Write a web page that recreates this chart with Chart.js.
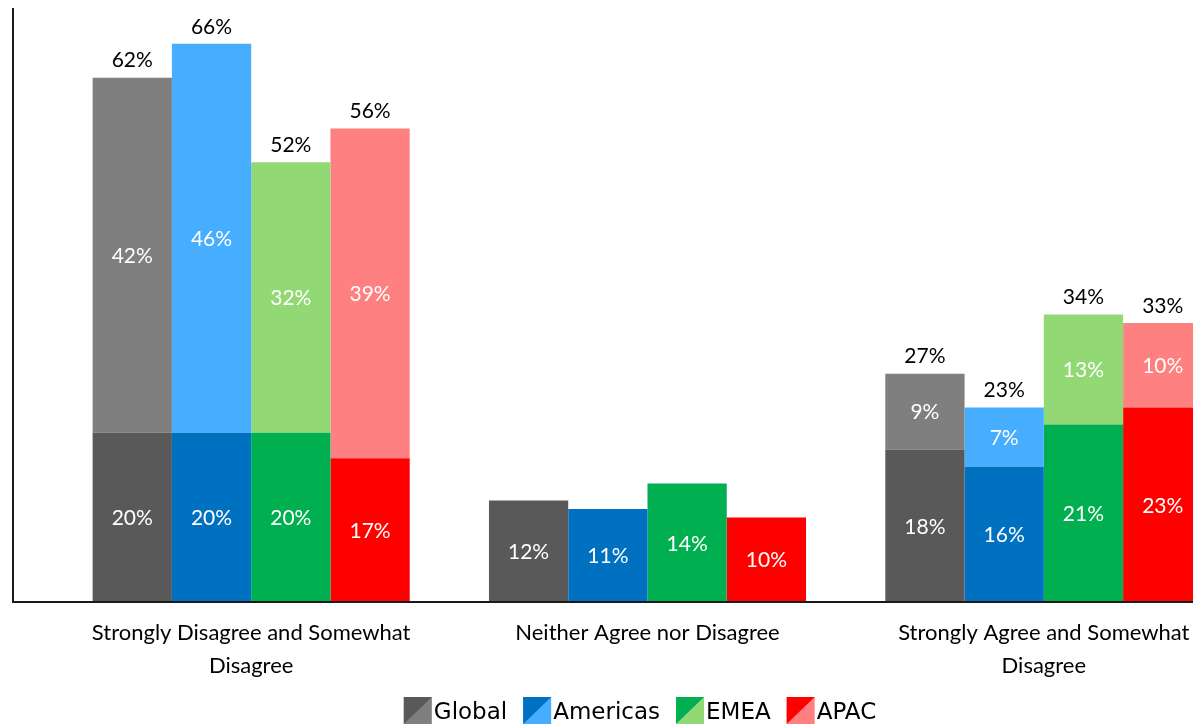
<!DOCTYPE html>
<html>
<head>
<meta charset="utf-8">
<script src="https://cdn.jsdelivr.net/npm/chart.js@4.4.1/dist/chart.umd.min.js"></script>
<style>
  html, body { margin: 0; padding: 0; background: #fff; overflow: hidden; }
  #wrap { width: 1290px; height: 726px; }
</style>
</head>
<body>
<div id="wrap"><canvas id="chart"></canvas></div>
<script>
var categories = [
  ["Strongly Disagree and Somewhat", "Disagree"],
  "Neither Agree nor Disagree",
  ["Strongly Agree and Somewhat", "Disagree"]
];
var regions = ["Global", "Americas", "EMEA", "APAC"];

// lower part of each bar ("strongly") and upper part ("somewhat")
var globalStrong = [20, 12, 18];
var globalSomewhat = [42, null, 9];
var americasStrong = [20, 11, 16];
var americasSomewhat = [46, null, 7];
var emeaStrong = [20, 14, 21];
var emeaSomewhat = [32, null, 13];
var apacStrong = [17, 10, 23];
var apacSomewhat = [39, null, 10];

var yMax = 70;

var darkColors = ['#595959', '#0070C0', '#00B050', '#FF0000'];
var lightColors = ['#7F7F7F', '#47ADFF', '#92D975', '#FF8080'];

var strongSeries = [globalStrong, americasStrong, emeaStrong, apacStrong];
var somewhatSeries = [globalSomewhat, americasSomewhat, emeaSomewhat, apacSomewhat];

var datasets = [];
regions.forEach(function (r, i) {
  datasets.push({ label: r, part: 'bottom', stack: r, data: strongSeries[i], backgroundColor: darkColors[i] });
  datasets.push({ label: r + ' (somewhat)', part: 'top', stack: r, data: somewhatSeries[i], backgroundColor: lightColors[i], bottomData: strongSeries[i] });
});

var valueLabels = {
  id: 'valueLabels',
  afterDatasetsDraw: function (chart) {
    var ctx = chart.ctx;
    ctx.save();
    ctx.font = '21px Lato';
    ctx.textAlign = 'center';
    ctx.textBaseline = 'middle';
    chart.data.datasets.forEach(function (ds, i) {
      var meta = chart.getDatasetMeta(i);
      meta.data.forEach(function (bar, j) {
        var v = ds.data[j];
        if (v == null) return;
        var p = bar.getProps(['x', 'y', 'base'], true);
        ctx.fillStyle = '#fff';
        ctx.fillText(v + '%', p.x, (p.y + p.base) / 2 + 1);
        if (ds.part === 'top') {
          ctx.fillStyle = '#000';
          ctx.fillText((v + ds.bottomData[j]) + '%', p.x, p.y - 17);
        }
      });
    });
    ctx.restore();
  }
};

// axis lines: vertical one sits left of the first group, horizontal runs to the edge
var axisLines = {
  id: 'axisLines',
  afterDraw: function (chart) {
    var ctx = chart.ctx;
    var y = chart.scales.y;
    var x0 = 13;
    var base = y.getPixelForValue(0);
    ctx.save();
    ctx.strokeStyle = '#1a1a1a';
    ctx.lineWidth = 2;
    ctx.beginPath();
    ctx.moveTo(x0, y.top - 2);
    ctx.lineTo(x0, base);
    ctx.lineTo(chart.width, base);
    ctx.stroke();
    ctx.restore();
  }
};

// legend row with two-tone swatches (dark top-left, light bottom-right)
var legendRow = {
  id: 'legendRow',
  afterDraw: function (chart) {
    var ctx = chart.ctx;
    var sw = 28, sh = 27, gapIn = 2, gapOut = 16;
    var centerX = 640, top = 697;
    ctx.save();
    ctx.font = '23px "DejaVu Sans"';
    ctx.textBaseline = 'alphabetic';
    ctx.textAlign = 'left';
    var widths = regions.map(function (r) { return ctx.measureText(r).width; });
    var total = 0;
    widths.forEach(function (w) { total += sw + gapIn + w; });
    total += gapOut * (regions.length - 1);
    var x = centerX - total / 2;
    regions.forEach(function (r, i) {
      ctx.fillStyle = lightColors[i];
      ctx.fillRect(x, top, sw, sh);
      ctx.fillStyle = darkColors[i];
      ctx.beginPath();
      ctx.moveTo(x, top); ctx.lineTo(x + sw, top); ctx.lineTo(x, top + sh); ctx.closePath();
      ctx.fill();
      ctx.fillStyle = '#000';
      ctx.fillText(r, x + sw + gapIn, top + 22);
      x += sw + gapIn + widths[i] + gapOut;
    });
    ctx.restore();
  }
};

new Chart(document.getElementById('chart'), {
  type: 'bar',
  data: { labels: categories, datasets: datasets },
  options: {
    responsive: true,
    maintainAspectRatio: false,
    animation: false,
    layout: { padding: { left: 53, right: 48, top: 10, bottom: 38 } },
    datasets: { bar: { categoryPercentage: 0.8, barPercentage: 1.0, borderWidth: 0 } },
    scales: {
      x: {
        stacked: true,
        grid: { display: false },
        border: { display: false },
        ticks: { color: '#000', font: { family: 'Lato', size: 22, lineHeight: 1.5 }, padding: 6, maxRotation: 0, autoSkip: false }
      },
      y: { stacked: true, display: false, min: 0, max: yMax }
    },
    plugins: {
      legend: { display: false },
      tooltip: { enabled: false }
    }
  },
  plugins: [valueLabels, axisLines, legendRow]
});
</script>
</body>
</html>
